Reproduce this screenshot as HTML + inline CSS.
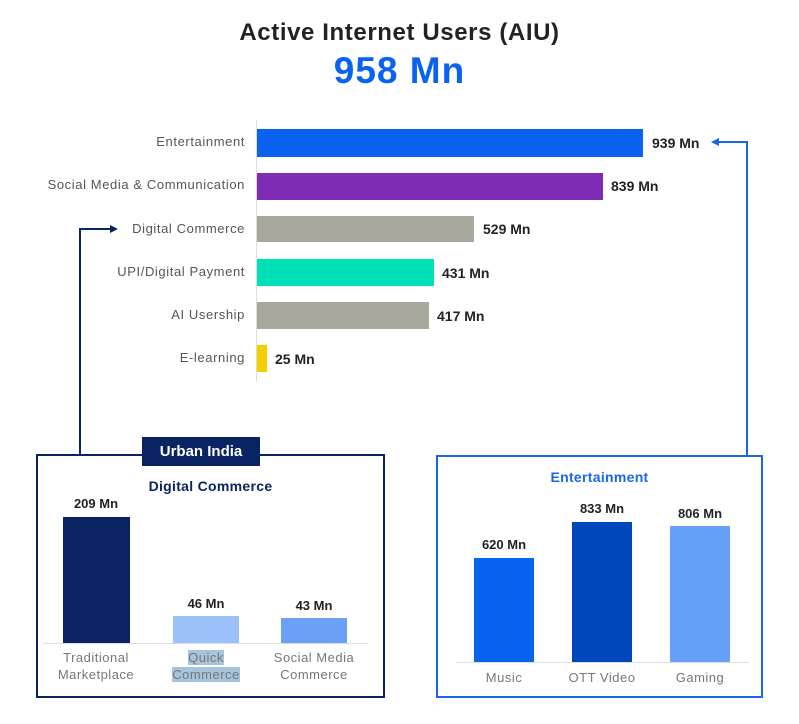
<!DOCTYPE html><html><head><style>
body{margin:0;width:799px;height:724px;background:#fff;font-family:"Liberation Sans",sans-serif;position:relative;overflow:hidden}
div{position:absolute}
.l{font-size:13px;letter-spacing:0.6px;color:#555;text-align:right;width:230px;left:15px}
.v{font-size:14px;font-weight:bold;color:#222}
.b{left:257px}
.c{font-size:13px;letter-spacing:0.5px;color:#777;text-align:center;line-height:17px}
.n{font-size:13px;font-weight:bold;color:#222;text-align:center}
</style></head><body>
<div style="left:0;width:799px;top:19px;text-align:center;font-size:24px;letter-spacing:0.6px;font-weight:bold;color:#222">Active Internet Users (AIU)</div>
<div style="left:0;width:799px;top:50px;text-align:center;font-size:37px;letter-spacing:1px;font-weight:bold;color:#0a62f0">958 Mn</div>
<div style="left:256px;top:120px;width:1px;height:262px;background:#ddd"></div>
<div class="l" style="top:134px">Entertainment</div>
<div class="b" style="top:129px;height:28px;width:386px;background:#0a62f0"></div>
<div class="v" style="left:652px;top:135px">939 Mn</div>
<div class="l" style="top:177px">Social Media &amp; Communication</div>
<div class="b" style="top:173px;height:27px;width:346px;background:#7e2bb5"></div>
<div class="v" style="left:611px;top:178px">839 Mn</div>
<div class="l" style="top:221px">Digital Commerce</div>
<div class="b" style="top:216px;height:26px;width:217px;background:#a8a89c"></div>
<div class="v" style="left:483px;top:221px">529 Mn</div>
<div class="l" style="top:264px">UPI/Digital Payment</div>
<div class="b" style="top:259px;height:27px;width:177px;background:#00e0b8"></div>
<div class="v" style="left:442px;top:265px">431 Mn</div>
<div class="l" style="top:307px">AI Usership</div>
<div class="b" style="top:302px;height:27px;width:172px;background:#a8a89c"></div>
<div class="v" style="left:437px;top:308px">417 Mn</div>
<div class="l" style="top:350px">E-learning</div>
<div class="b" style="top:345px;height:27px;width:10px;background:#f5d000"></div>
<div class="v" style="left:275px;top:351px">25 Mn</div>
<svg style="position:absolute;left:0;top:0" width="799" height="724">
<polyline points="80,454 80,229 112,229" fill="none" stroke="#0a2463" stroke-width="2"/>
<polygon points="118,229 110,225 110,233" fill="#0a2463"/>
<polyline points="747,456 747,142 717,142" fill="none" stroke="#1a66e8" stroke-width="2"/>
<polygon points="711,142 719,138 719,146" fill="#1a66e8"/>
</svg>
<div style="left:36px;top:454px;width:345px;height:240px;border:2px solid #0a2463"></div>
<div style="left:142px;top:437px;width:118px;height:29px;background:#0a2463;color:#fff;font-weight:bold;font-size:15px;text-align:center;line-height:29px">Urban India</div>
<div style="left:36px;width:349px;top:478px;text-align:center;font-weight:bold;font-size:14px;letter-spacing:0.3px;color:#0a2463">Digital Commerce</div>
<div style="left:43px;top:643px;width:325px;height:1px;background:#ddd"></div>
<div style="left:63px;top:517px;width:67px;height:126px;background:#0a2463"></div>
<div style="left:173px;top:616px;width:66px;height:27px;background:#9cc0fa"></div>
<div style="left:281px;top:618px;width:66px;height:25px;background:#6aa0f8"></div>
<div class="n" style="left:46px;width:100px;top:496px">209 Mn</div>
<div class="n" style="left:156px;width:100px;top:596px">46 Mn</div>
<div class="n" style="left:264px;width:100px;top:598px">43 Mn</div>
<div class="c" style="left:36px;width:120px;top:649px">Traditional<br>Marketplace</div>
<div class="c" style="left:146px;width:120px;top:649px"><span style="background:#a6c4dc">Quick</span><br><span style="background:#a6c4dc">Commerce</span></div>
<div class="c" style="left:254px;width:120px;top:649px">Social Media<br>Commerce</div>
<div style="left:436px;top:455px;width:323px;height:239px;border:2px solid #1a66e8"></div>
<div style="left:436px;width:327px;top:469px;text-align:center;font-weight:bold;font-size:14px;letter-spacing:0.3px;color:#1a66e8">Entertainment</div>
<div style="left:456px;top:662px;width:293px;height:1px;background:#ddd"></div>
<div style="left:474px;top:558px;width:60px;height:104px;background:#0a62f0"></div>
<div style="left:572px;top:522px;width:60px;height:140px;background:#0047bb"></div>
<div style="left:670px;top:526px;width:60px;height:136px;background:#66a0f8"></div>
<div class="n" style="left:454px;width:100px;top:537px">620 Mn</div>
<div class="n" style="left:552px;width:100px;top:501px">833 Mn</div>
<div class="n" style="left:650px;width:100px;top:506px">806 Mn</div>
<div class="c" style="left:454px;width:100px;top:669px">Music</div>
<div class="c" style="left:552px;width:100px;top:669px">OTT Video</div>
<div class="c" style="left:650px;width:100px;top:669px">Gaming</div>
</body></html>
